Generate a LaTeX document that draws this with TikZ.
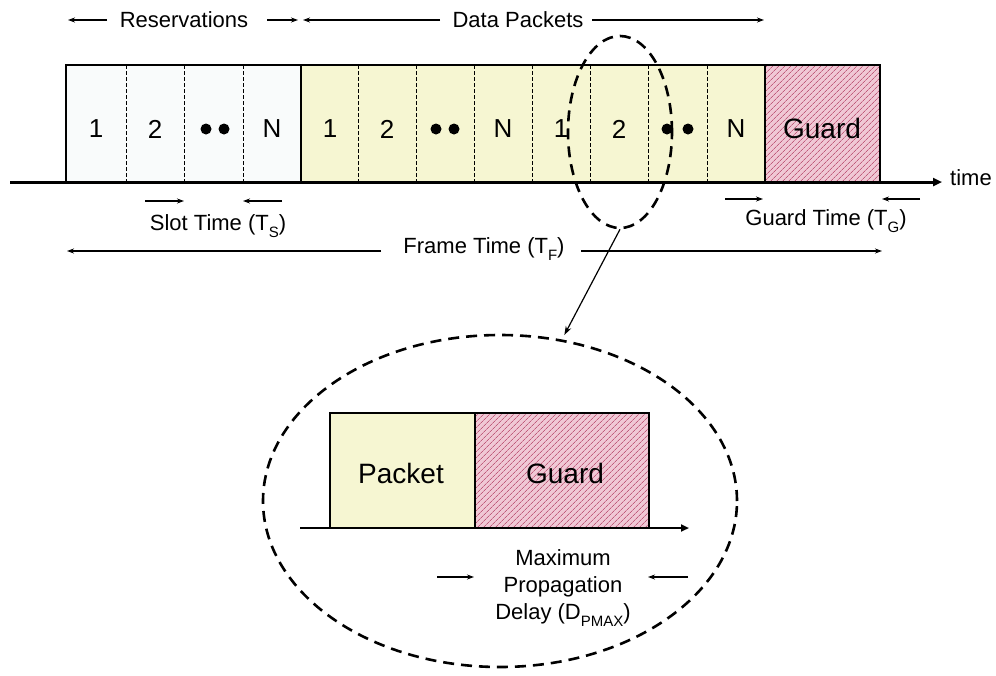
\documentclass[tikz,border=0pt]{standalone}
\usepackage{fontspec}
\setmainfont{Liberation Sans}
\usetikzlibrary{shapes.geometric,arrows.meta,patterns.meta}
\definecolor{resfill}{RGB}{249,251,251}
\definecolor{datafill}{RGB}{246,246,210}
\definecolor{guardfill}{RGB}{240,200,213}
\definecolor{guardline}{RGB}{192,92,124}
\newcommand\subtxt[1]{\raisebox{-0.35em}{\fontsize{15}{15}\selectfont #1}}
\begin{document}
\begin{tikzpicture}[x=1pt,y=-1pt,
  lbl/.style={font=\fontsize{22}{27}\selectfont, inner sep=0pt},
  cellnum/.style={font=\fontsize{26}{30}\selectfont, inner sep=0pt},
  bigword/.style={font=\fontsize{28}{32}\selectfont, inner sep=0pt},
  dotmark/.style={circle, fill=black, inner sep=0pt, minimum size=11pt},
  dimarrow/.style={-{Stealth[length=7pt,width=5pt]}, line width=1.1pt},
  sep/.style={dash pattern=on 3.5pt off 2.5pt, line width=1pt},
  halo/.style={ellipse, draw, dash pattern=on 11pt off 7pt, line width=2.6pt, inner sep=0pt},
  hatch/.style={pattern={Lines[angle=45,distance=4pt,line width=0.8pt]}, pattern color=guardline}]
\useasboundingbox (0,0) rectangle (996,675);

% ---------- frame of slots ----------
\fill[resfill] (66,65) rectangle (301,181);
\fill[datafill] (301,65) rectangle (765,181);
\fill[guardfill] (765,65) rectangle (880,181);
\fill[hatch] (765,65) rectangle (880,181);
\foreach \x in {126,184,243,358,416,474,532,590,648,707}
  \draw[sep] (\x,65) -- (\x,181);
\draw[line width=1.4pt] (66,65) -- (880,65);
\draw[line width=2.4pt] (66,183) -- (66,64);
\draw[line width=2pt] (301,65) -- (301,182);
\draw[line width=1.8pt] (765,65) -- (765,182);
\draw[line width=2.4pt] (880,64) -- (880,182);

% time axis
\coordinate (t0) at (10,182);
\coordinate (t1) at (942,182);
\draw[line width=3pt, -{Triangle[length=9pt,width=8pt]}] (t0) -- (t1);
\node[lbl, anchor=west] (timelbl) at (950,178) {time};

% slot labels
\node[cellnum] (r1) at (96,129) {1};
\node[cellnum] (r2) at (155,129) {2};
\node[dotmark] (rd1) at (206,129) {};
\node[dotmark] (rd2) at (224,129) {};
\node[cellnum] (rn) at (272,129) {N};
\node[cellnum] (p1) at (330,129) {1};
\node[cellnum] (p2) at (387,129) {2};
\node[dotmark] (pd1) at (436,129) {};
\node[dotmark] (pd2) at (454,129) {};
\node[cellnum] (pn) at (503,129) {N};
\node[cellnum] (q1) at (561,129) {1};
\node[cellnum] (q2) at (619,129) {2};
\node[dotmark] (qd1) at (667,129) {};
\node[dotmark] (qd2) at (688,129) {};
\node[cellnum] (qn) at (736,129) {N};
\node[bigword] (guard) at (822,128) {Guard};

% ---------- top labels ----------
\node[lbl] (resv) at (184,20) {Reservations};
\coordinate (resLa) at (107,20); \coordinate (resLb) at (68,20);
\coordinate (resRa) at (267,20); \coordinate (resRb) at (298,20);
\draw[dimarrow] (resLa) -- (resLb);
\draw[dimarrow] (resRa) -- (resRb);
\node[lbl] (data) at (518,20) {Data Packets};
\coordinate (datLa) at (440,20); \coordinate (datLb) at (303,20);
\coordinate (datRa) at (592,20); \coordinate (datRb) at (764,20);
\draw[dimarrow] (datLa) -- (datLb);
\draw[dimarrow] (datRa) -- (datRb);

% ---------- dimension labels below ----------
\coordinate (sa) at (145,201); \coordinate (sb) at (184,201);
\coordinate (sc) at (282,201); \coordinate (sd) at (243,201);
\draw[dimarrow] (sa) -- (sb);
\draw[dimarrow] (sc) -- (sd);
\node[lbl] (slot) at (218,226) {Slot Time (T\subtxt{S})};

\coordinate (ga) at (725,199); \coordinate (gb) at (763,199);
\coordinate (gc) at (920,199); \coordinate (gd) at (882,199);
\draw[dimarrow] (ga) -- (gb);
\draw[dimarrow] (gc) -- (gd);
\node[lbl] (gtime) at (826,221) {Guard Time (T\subtxt{G})};

\node[lbl] (frame) at (484,249) {Frame Time (T\subtxt{F})};
\coordinate (fa) at (381,251); \coordinate (fb) at (67,251);
\coordinate (fc) at (581,251); \coordinate (fd) at (882,251);
\draw[dimarrow] (fa) -- (fb);
\draw[dimarrow] (fc) -- (fd);

% ---------- magnified view ----------
\node[halo, minimum width=104pt, minimum height=192pt] (small) at (620,132) {};
\node[halo, minimum width=474pt, minimum height=332pt] (big) at (500,501) {};
\draw[line width=1.2pt, -{Stealth[length=9pt,width=6pt]}, shorten >=5pt] (small.south) -- (big.69);

\fill[datafill] (330,413) rectangle (475,527);
\fill[guardfill] (475,413) rectangle (649,527);
\fill[hatch] (475,413) rectangle (649,527);
\draw[line width=1.3pt] (330,527) |- (649,413) -- (649,527);
\draw[line width=1.3pt] (475,413) -- (475,527);
\coordinate (ia) at (300,528); \coordinate (ib) at (689,528);
\draw[line width=2.6pt, -{Triangle[length=8pt,width=7pt]}] (ia) -- (ib);
\node[bigword] (packet) at (401,473) {Packet};
\node[bigword] (iguard) at (565,473) {Guard};

\node[lbl, align=center, font=\fontsize{22}{27}\selectfont] (dpmax) at (563,588)
  {Maximum\\Propagation\\Delay (D\subtxt{PMAX})};
\coordinate (da) at (437,577); \coordinate (db) at (474,577);
\coordinate (dc) at (688,577); \coordinate (dd) at (648,577);
\draw[dimarrow] (da) -- (db);
\draw[dimarrow] (dc) -- (dd);
\end{tikzpicture}
\end{document}
